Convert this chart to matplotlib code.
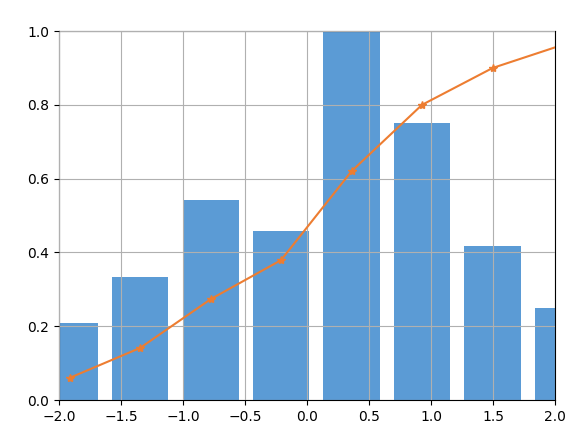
import numpy as np
import matplotlib
matplotlib.use("Agg")
import matplotlib.pyplot as plt

# bin centres, normalised histogram heights and cumulative curve
centers = [-1.915, -1.347, -0.774, -0.21, 0.359, 0.927, 1.497, 2.065]
heights = [0.208, 0.333, 0.542, 0.458, 1.0, 0.75, 0.417, 0.25]
cumulative = [0.06, 0.141, 0.274, 0.379, 0.62, 0.80, 0.90, 0.963]
bar_width = 0.455

fig = plt.figure(figsize=(5.8, 4.44), dpi=100)
ax = fig.add_axes([0.1017, 0.099, 0.8552, 0.831])

ax.bar(centers, heights, width=bar_width, color="#5B9BD5", zorder=1)
ax.plot(centers, cumulative, color="#ED7D31", marker="*", markersize=6,
        linewidth=1.5, zorder=3)

ax.set_xlim(-2.0, 2.0)
ax.set_ylim(0.0, 1.0)
ax.set_xticks(np.arange(-2.0, 2.01, 0.5))
ax.set_yticks(np.arange(0.0, 1.01, 0.2))
ax.grid(True, color="#b0b0b0", linewidth=0.8, zorder=2)
ax.set_axisbelow(False)

fig.savefig("out.png", dpi=100)
